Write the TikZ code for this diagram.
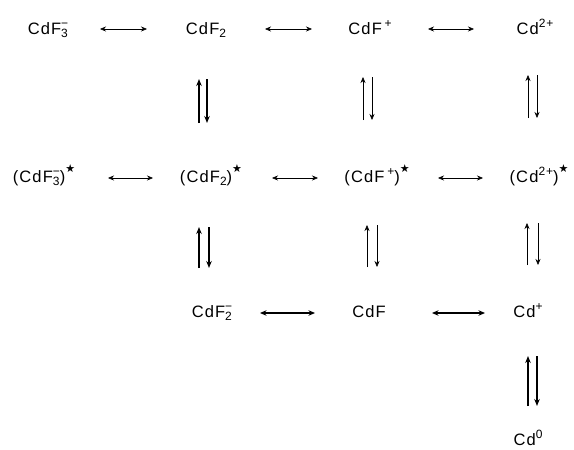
\documentclass[tikz,border=0pt]{standalone}
\usepackage{fontspec}
\setmainfont[LetterSpace=7]{Liberation Sans}
\newfontfamily\symfont{DejaVu Sans}
\usetikzlibrary{arrows.meta}

% charge and index marks on the species
\newcommand\lo[1]{\raisebox{-0.45ex}{\fontsize{12}{12}\selectfont #1}}
\newcommand\hi[1]{\raisebox{0.8ex}{\fontsize{12}{12}\selectfont #1}}
\newcommand\lohi[2]{\rlap{\lo{#1}}\hi{#2}}
\newcommand\starmark{\raisebox{1.1ex}{\symfont\fontsize{11}{11}\selectfont ★}}

\begin{document}
\begin{tikzpicture}[x=1pt,y=-1pt,
  every node/.style={inner sep=0pt, anchor=base, font=\fontsize{16.5}{19}\selectfont},
  eqthin/.style={{Stealth[length=6pt,width=5pt]}-{Stealth[length=6pt,width=5pt]}, line width=0.6pt},
  eqthick/.style={{Stealth[length=6.5pt,width=5.5pt]}-{Stealth[length=6.5pt,width=5.5pt]}, line width=1.1pt},
  upthin/.style={-{Stealth[length=6pt,width=5pt]}, line width=0.6pt},
  upthick/.style={-{Stealth[length=7pt,width=5.5pt]}, line width=1.3pt}]
\useasboundingbox (0,0) rectangle (574,450);

% species
\node (a1) at (48,34)   {CdF\lohi{3}{−}};
\node (a2) at (206,34)  {CdF\lo{2}};
\node (a3) at (370,34)  {CdF\,\hi{+}};
\node (a4) at (535,34)  {Cd\hi{2+}};
\node (b1) at (44,182)  {(CdF\lohi{3}{−})\starmark};
\node (b2) at (211,182) {(CdF\lo{2})\starmark};
\node (b3) at (377,182) {(CdF\,\hi{+})\starmark};
\node (b4) at (539,182) {(Cd\hi{2+})\starmark};
\node (c2) at (212,317) {CdF\lohi{2}{−}};
\node (c3) at (369,317) {CdF};
\node (c4) at (528,317) {Cd\hi{+}};
\node (d4) at (528,445) {Cd\hi{0}};

% horizontal equilibria
\draw[eqthin] ([xshift=52pt,yshift=5pt]a1.base) -- ([xshift=-59pt,yshift=5pt]a2.base);
\draw[eqthin] ([xshift=59pt,yshift=5pt]a2.base) -- ([xshift=-58pt,yshift=5pt]a3.base);
\draw[eqthin] ([xshift=58pt,yshift=5pt]a3.base) -- ([xshift=-61pt,yshift=5pt]a4.base);

\draw[eqthin] ([xshift=64pt,yshift=4pt]b1.base) -- ([xshift=-58pt,yshift=4pt]b2.base);
\draw[eqthin] ([xshift=61pt,yshift=4pt]b2.base) -- ([xshift=-59pt,yshift=4pt]b3.base);
\draw[eqthin] ([xshift=61pt,yshift=4pt]b3.base) -- ([xshift=-56pt,yshift=4pt]b4.base);

\draw[eqthick] ([xshift=48pt,yshift=4pt]c2.base) -- ([xshift=-54pt,yshift=4pt]c3.base);
\draw[eqthick] ([xshift=63pt,yshift=4pt]c3.base) -- ([xshift=-43pt,yshift=4pt]c4.base);

% vertical equilibria: left arrow up, right arrow down
\draw[upthick] ([xshift=-12pt,yshift=59pt]b2.base) -- ([xshift=-7pt,yshift=-45pt]a2.base);
\draw[upthick] ([xshift=1pt,yshift=-45pt]a2.base) -- ([xshift=-4pt,yshift=59pt]b2.base);
\draw[upthick] ([xshift=-13pt,yshift=49pt]c2.base) -- ([xshift=-12pt,yshift=-45pt]b2.base);
\draw[upthick] ([xshift=-2pt,yshift=-45pt]b2.base) -- ([xshift=-3pt,yshift=49pt]c2.base);

\draw[upthin] ([xshift=-14pt,yshift=62pt]b3.base) -- ([xshift=-7pt,yshift=-43pt]a3.base);
\draw[upthin] ([xshift=2pt,yshift=-43pt]a3.base) -- ([xshift=-5pt,yshift=62pt]b3.base);
\draw[upthin] ([xshift=-2pt,yshift=50pt]c3.base) -- ([xshift=-10pt,yshift=-43pt]b3.base);
\draw[upthin] ([xshift=0pt,yshift=-43pt]b3.base) -- ([xshift=8pt,yshift=50pt]c3.base);

\draw[upthin] ([xshift=-11pt,yshift=64pt]b4.base) -- ([xshift=-7pt,yshift=-41pt]a4.base);
\draw[upthin] ([xshift=2pt,yshift=-41pt]a4.base) -- ([xshift=-2pt,yshift=64pt]b4.base);
\draw[upthin] ([xshift=-1pt,yshift=52pt]c4.base) -- ([xshift=-12pt,yshift=-41pt]b4.base);
\draw[upthin] ([xshift=-1pt,yshift=-41pt]b4.base) -- ([xshift=10pt,yshift=52pt]c4.base);

\draw[upthick] ([xshift=0pt,yshift=39pt]d4.base) -- ([xshift=0pt,yshift=-39pt]c4.base);
\draw[upthick] ([xshift=9pt,yshift=-39pt]c4.base) -- ([xshift=9pt,yshift=39pt]d4.base);
\end{tikzpicture}
\end{document}
